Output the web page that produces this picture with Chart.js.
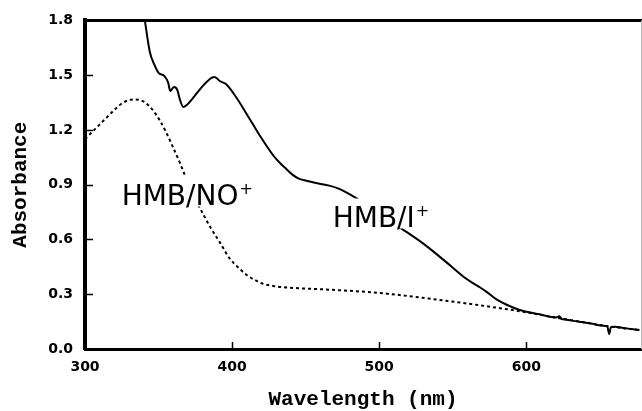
<!DOCTYPE html>
<html>
<head>
<meta charset="utf-8">
<script src="https://cdn.jsdelivr.net/npm/chart.js@4.4.1/dist/chart.umd.min.js"></script>
<style>
  html, body { margin: 0; padding: 0; background: #fff; }
  canvas { display: block; }
</style>
</head>
<body>
<canvas id="c" width="642" height="411"></canvas>
<script>
// ---- Data ----
const wavelengthNO = [300, 305, 310, 315, 320, 326, 333, 340, 346, 351, 355, 359, 364.5, 368, 372, 377, 385, 392, 398, 405, 410, 415, 420, 428, 435, 445, 466, 500, 534, 568, 597, 620, 640, 660, 678];
const absorbNO     = [1.15, 1.19, 1.23, 1.27, 1.31, 1.35, 1.367, 1.355, 1.31, 1.25, 1.19, 1.12, 1.02, 0.95, 0.87, 0.79, 0.67, 0.58, 0.50, 0.44, 0.405, 0.38, 0.36, 0.345, 0.338, 0.333, 0.325, 0.307, 0.276, 0.24, 0.205, 0.172, 0.145, 0.12, 0.103];

const wavelengthI = [339, 340.7, 344, 347, 350, 354, 356.5, 358, 360.4, 362.7, 364.5, 366.8, 369, 373.5, 380, 386, 388, 390, 391.6, 396, 403, 410, 419, 428, 432.4, 437, 441, 445, 450.5, 458, 466, 472, 477.6, 484.4, 500, 516, 530, 545.6, 559, 568, 573, 579.5, 586, 595, 609, 620, 622.5, 624, 626, 636, 645, 652, 655, 656.4, 657.5, 660, 668, 677];
const absorbI     = [1.90, 1.80, 1.63, 1.56, 1.513, 1.495, 1.46, 1.413, 1.435, 1.42, 1.367, 1.326, 1.335, 1.376, 1.44, 1.485, 1.49, 1.48, 1.468, 1.45, 1.376, 1.286, 1.167, 1.06, 1.02, 0.985, 0.955, 0.935, 0.922, 0.908, 0.895, 0.88, 0.858, 0.826, 0.74, 0.655, 0.577, 0.476, 0.386, 0.34, 0.313, 0.273, 0.245, 0.215, 0.19, 0.173, 0.18, 0.165, 0.162, 0.149, 0.138, 0.127, 0.125, 0.082, 0.12, 0.122, 0.113, 0.104];

const xTicks = [300, 400, 500, 600];
const yTicks = [0.0, 0.3, 0.6, 0.9, 1.2, 1.5, 1.8];

const xTitle = 'Wavelength (nm)';
const yTitle = 'Absorbance';
const labelNO = { text: 'HMB/NO', sup: '+', x: 324.9, y: 0.791 };
const labelI  = { text: 'HMB/I',  sup: '+', x: 468.4, y: 0.671 };

const zip = (xs, ys) => xs.map((x, i) => ({ x: x, y: ys[i] }));

const framePlugin = {
  id: 'frame',
  afterDatasetsDraw(chart) {
    const { ctx, chartArea: a, scales: { x, y } } = chart;
    ctx.save();
    // inward ticks
    ctx.strokeStyle = '#000';
    ctx.lineWidth = 1.5;
    yTicks.forEach(v => {
      const py = Math.round(y.getPixelForValue(v)) + 0.5;
      ctx.beginPath(); ctx.moveTo(a.left, py); ctx.lineTo(a.left + 8, py); ctx.stroke();
    });
    xTicks.forEach(v => {
      const px = Math.round(x.getPixelForValue(v)) + 0.5;
      ctx.beginPath(); ctx.moveTo(px, a.bottom); ctx.lineTo(px, a.bottom - 7); ctx.stroke();
    });
    // top border
    ctx.lineWidth = 3;
    ctx.beginPath(); ctx.moveTo(a.left - 2, a.top); ctx.lineTo(a.right + 1, a.top); ctx.stroke();
    // right border (thin grey)
    ctx.strokeStyle = '#bbb';
    ctx.lineWidth = 1;
    ctx.beginPath(); ctx.moveTo(a.right + 0.5, a.top); ctx.lineTo(a.right + 0.5, a.bottom); ctx.stroke();

    // curve labels with white backing
    const drawLabel = (L) => {
      const px = x.getPixelForValue(L.x);
      const py = y.getPixelForValue(L.y);
      ctx.font = '28px "DejaVu Sans"';
      const w = ctx.measureText(L.text).width;
      ctx.font = '16px "DejaVu Sans"';
      const ws = ctx.measureText(L.sup).width;
      ctx.fillStyle = '#fff';
      ctx.fillRect(px - 4, py - 28, w + ws + 8, 30);
      ctx.fillStyle = '#000';
      ctx.textBaseline = 'alphabetic';
      ctx.textAlign = 'left';
      ctx.font = '28px "DejaVu Sans"';
      ctx.fillText(L.text, px, py);
      ctx.font = '16px "DejaVu Sans"';
      ctx.fillText(L.sup, px + w + 1, py - 11);
    };
    drawLabel(labelNO);
    drawLabel(labelI);
    ctx.restore();
  }
};

new Chart(document.getElementById('c'), {
  type: 'line',
  data: {
    datasets: [
      {
        data: zip(wavelengthI, absorbI),
        borderColor: '#000',
        borderWidth: 2,
        pointRadius: 0,
        fill: false,
        cubicInterpolationMode: 'monotone'
      },
      {
        data: zip(wavelengthNO, absorbNO),
        borderColor: '#000',
        borderWidth: 2,
        borderDash: [3, 3],
        pointRadius: 0,
        fill: false,
        cubicInterpolationMode: 'monotone'
      }
    ]
  },
  options: {
    responsive: false,
    animation: false,
    devicePixelRatio: 1,
    layout: { padding: { top: 19, right: 1, left: 0, bottom: 0 } },
    plugins: { legend: { display: false }, tooltip: { enabled: false } },
    scales: {
      x: {
        type: 'linear',
        min: 300,
        max: 678,
        afterBuildTicks: s => { s.ticks = xTicks.map(v => ({ value: v })); },
        afterFit: s => { s.height = 62; },
        grid: { display: false, drawTicks: false },
        border: { display: true, width: 3, color: '#000' },
        ticks: {
          padding: 10, color: '#000', maxRotation: 0, autoSkip: false,
          font: { family: 'DejaVu Sans', weight: 'bold', size: 14 },
          callback: v => String(v)
        },
        title: {
          display: true, text: xTitle, color: '#000',
          font: { family: 'Liberation Mono', weight: 'bold', size: 21, lineHeight: 1 },
          padding: { top: 0, bottom: 0.5 }
        }
      },
      y: {
        min: 0,
        max: 1.8,
        afterBuildTicks: s => { s.ticks = yTicks.map(v => ({ value: v })); },
        afterFit: s => { s.width = 85; },
        grid: { display: false, drawTicks: false },
        border: { display: true, width: 4, color: '#000' },
        ticks: {
          padding: 12, color: '#000', autoSkip: false,
          font: { family: 'DejaVu Sans', weight: 'bold', size: 14 },
          callback: v => Number(v).toFixed(1)
        },
        title: {
          display: true, text: yTitle, color: '#000',
          font: { family: 'Liberation Mono', weight: 'bold', size: 21, lineHeight: 1 },
          padding: { top: 10.5, bottom: 0 }
        }
      }
    }
  },
  plugins: [framePlugin]
});
</script>
</body>
</html>
